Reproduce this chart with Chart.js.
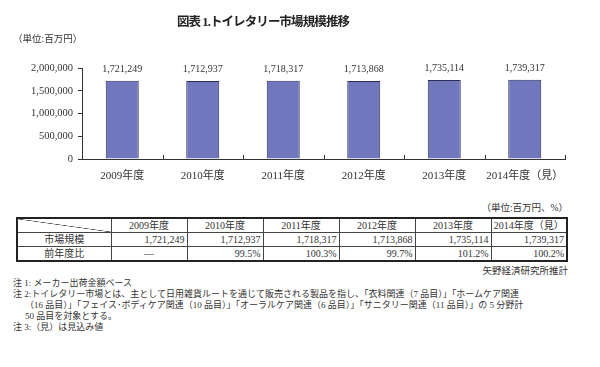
<!DOCTYPE html>
<html><head><meta charset="utf-8">
<script src="https://cdn.jsdelivr.net/npm/chart.js@4"></script>
<style>
body{margin:0;background:#fff;}
#wrap{position:relative;width:600px;height:367px;overflow:hidden;font-family:"Liberation Serif","Noto Sans CJK JP";color:#333;}
#c{position:absolute;left:0;top:0;}
.t{position:absolute;white-space:nowrap;}
#title{left:0;width:526px;text-align:center;top:11px;font-size:12.5px;font-weight:bold;color:#222;letter-spacing:-0.9px;}
#unit1{left:13px;top:31px;font-size:9.5px;}
#unit2{right:32px;top:200px;font-size:9.5px;}
#src{right:32px;top:263px;font-size:9.5px;}
table{position:absolute;left:16px;top:217px;width:552px;border-collapse:collapse;border:2px solid #222;font-size:10px;table-layout:fixed;}
td{border:1px solid #444;height:13px;padding:0 2px;line-height:13px;}
td.h{text-align:center;}
td.n{text-align:right;}
td.diag{background:linear-gradient(to top right,transparent calc(50% - 0.6px),#444 50%,transparent calc(50% + 0.6px));}
#notes{position:absolute;left:13px;top:278px;font-size:9px;line-height:11px;white-space:nowrap;}
#notes .ind{padding-left:12px;}
</style></head><body>
<div id="wrap">
<canvas id="c" width="600" height="200"></canvas>
<div class="t" id="title">図表 1.トイレタリー市場規模推移</div>
<div class="t" id="unit1">（単位:百万円）</div>
<div class="t" id="unit2">（単位:百万円、%）</div>
<table id="tbl"></table>
<div class="t" id="src">矢野経済研究所推計</div>
<div id="notes"></div>
</div>
<script>
const categories = ['2009年度','2010年度','2011年度','2012年度','2013年度','2014年度（見）'];
const marketSize = [1721249,1712937,1718317,1713868,1735114,1739317];
const yoyRatio = ['—','99.5%','100.3%','99.7%','101.2%','100.2%'];
const rowLabels = ['市場規模','前年度比'];
const yTickStep = 500000;
const yMax = 2000000;
const notes = [
  '注 1: メーカー出荷金額ベース',
  '注 2:トイレタリー市場とは、主として日用雑貨ルートを通じて販売される製品を指し、「衣料関連（7 品目）」「ホームケア関連',
  '（16 品目）」「フェイス･ボディケア関連（10 品目）」「オーラルケア関連（6 品目）」「サニタリー関連（11 品目）」の 5 分野計',
  '50 品目を対象とする。',
  '注 3:（見）は見込み値'
];

const fmt = v => v.toLocaleString('en-US');
const FAM = "'Liberation Serif','Noto Sans CJK JP'";

// table
const tbl = document.getElementById('tbl');
let html = '<colgroup><col style="width:94px">' + categories.map(()=>'<col>').join('') + '</colgroup>';
html += '<tr><td class="diag"></td>' + categories.map(c=>'<td class="h">'+c+'</td>').join('') + '</tr>';
html += '<tr><td class="h">'+rowLabels[0]+'</td>' + marketSize.map(v=>'<td class="n">'+fmt(v)+'</td>').join('') + '</tr>';
html += '<tr><td class="h">'+rowLabels[1]+'</td>' + yoyRatio.map(v=>'<td class="'+(v==='—'?'h':'n')+'">'+v+'</td>').join('') + '</tr>';
tbl.innerHTML = html;

// notes
document.getElementById('notes').innerHTML = notes.map((n,i)=>'<div class="'+((i===2||i===3)?'ind':'')+'">'+n+'</div>').join('');

const barLabels = {
  id:'barLabels',
  afterDatasetsDraw(chart){
    const ctx = chart.ctx;
    const meta = chart.getDatasetMeta(0);
    ctx.save();
    ctx.font = "10px " + FAM;
    ctx.fillStyle = '#333';
    ctx.textAlign = 'center';
    ctx.textBaseline = 'alphabetic';
    meta.data.forEach((bar,i)=>{
      ctx.fillText(fmt(chart.data.datasets[0].data[i]), bar.x, bar.y - 9);
    });
    ctx.restore();
  }
};
const catTicks = {
  id:'catTicks',
  afterDraw(chart){
    const x = chart.scales.x, a = chart.chartArea, ctx = chart.ctx;
    const step = x.getPixelForValue(1) - x.getPixelForValue(0);
    ctx.save();
    ctx.strokeStyle = '#333'; ctx.lineWidth = 1;
    for(let i=0;i<categories.length;i++){
      const px = Math.round(x.getPixelForValue(i) + step/2) + 0.5;
      ctx.beginPath(); ctx.moveTo(px, a.bottom - 4); ctx.lineTo(px, a.bottom); ctx.stroke();
    }
    ctx.restore();
  }
};

new Chart(document.getElementById('c'), {
  type:'bar',
  data:{labels:categories, datasets:[{data:marketSize, backgroundColor:'#7177bc', borderColor:'#2d2d55', borderWidth:1, categoryPercentage:1, barPercentage:0.41}]},
  options:{
    responsive:false, animation:false, devicePixelRatio:1,
    plugins:{legend:{display:false}, tooltip:{enabled:false}},
    layout:{padding:{left:0,right:35,top:68,bottom:0}},
    scales:{
      x:{
        grid:{display:true, drawOnChartArea:false, drawTicks:false},
        border:{color:'#333', width:1},
        ticks:{color:'#333', font:{size:11, family:FAM}, padding:11, maxRotation:0, autoSkip:false},
        afterFit(s){ s.height = 41; }
      },
      y:{
        min:0, max:yMax,
        ticks:{stepSize:yTickStep, color:'#333', font:{size:10.5, family:FAM}, padding:5, callback:v=>fmt(v)},
        grid:{drawOnChartArea:false, tickLength:4, color:'#333'},
        border:{color:'#333', width:1},
        afterFit(s){ s.width = 82; }
      }
    }
  },
  plugins:[barLabels, catTicks]
});
</script>
</body></html>
